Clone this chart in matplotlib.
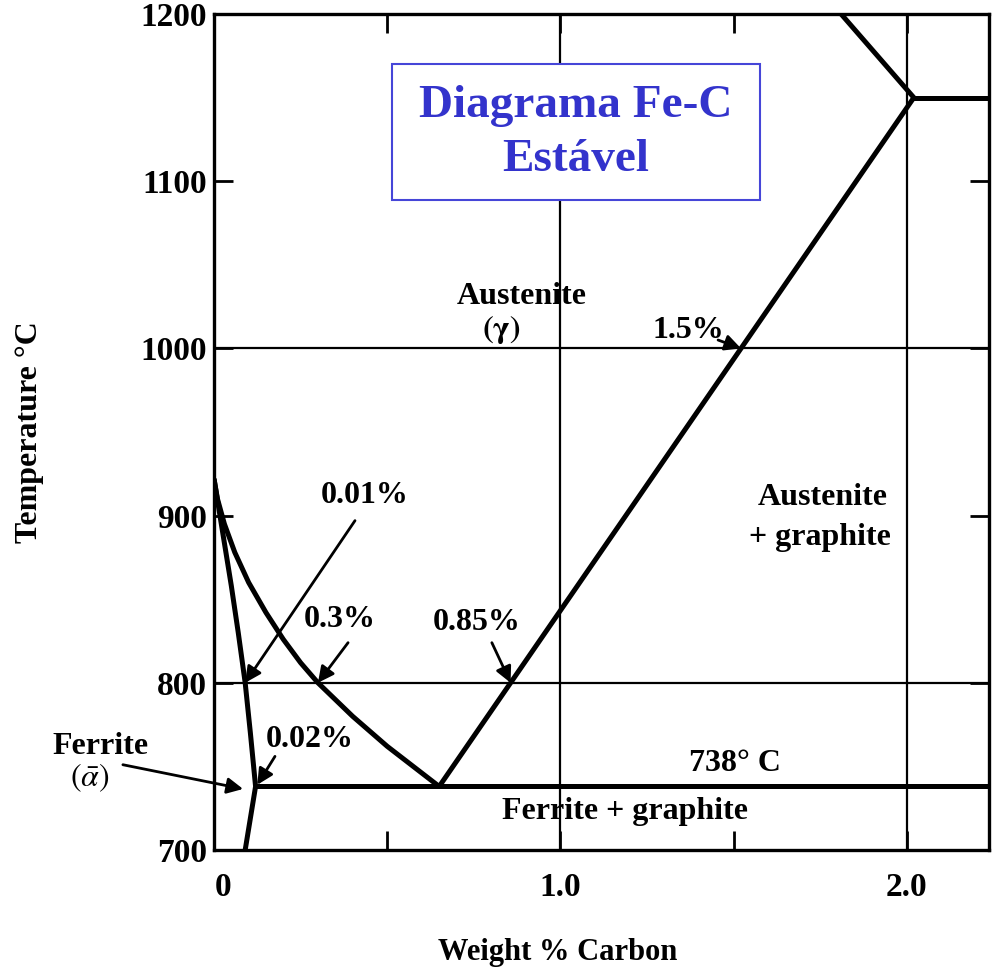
import matplotlib
matplotlib.use('Agg')
import matplotlib.pyplot as plt
import numpy as np
from matplotlib.patches import Rectangle
from matplotlib.transforms import ScaledTranslation

plt.rcParams['font.family'] = ['Liberation Serif', 'DejaVu Serif']
plt.rcParams['mathtext.fontset'] = 'stix'

# eixos
x_ticks = [0, 0.5, 1.0, 1.5, 2.0]
x_tick_labels = ['0', '', '1.0', '', '2.0']
y_ticks = [700, 800, 900, 1000, 1100, 1200]
grade_t = [800, 1000]
grade_c = [1.0, 2.0]

# linha A3 (austenita / ferrita + austenita)
a3_c = [0.0, 0.01, 0.03, 0.06, 0.10, 0.15, 0.20, 0.25, 0.30, 0.35, 0.40,
        0.45, 0.50, 0.55, 0.60, 0.65]
a3_t = [922, 910, 895, 878, 860, 842, 826, 812, 800, 790, 780,
        771, 762, 754, 746, 738]
# limite da ferrita
ferr_c = [0.0, 0.025, 0.05, 0.07, 0.09, 0.105, 0.12, 0.09]
ferr_t = [922, 890, 858, 830, 800, 770, 738, 700]
# linha Acm
acm_c = [0.65, 2.02]
acm_t = [738, 1150]
# acima do eutetico
liq_c = [1.81, 2.02]
liq_t = [1200, 1150]
eutetico_c = [2.02, 2.24]
eutetico_t = [1150, 1150]
eutetoide_c = [0.12, 2.24]
eutetoide_t = [738, 738]

fig = plt.figure(figsize=(9.92, 9.72), dpi=100)
ax = fig.add_axes([214 / 992, 122 / 972, 775 / 992, 836 / 972])
ax.set_xlim(0, 2.237)
ax.set_ylim(700, 1200)

for s in ax.spines.values():
    s.set_linewidth(2.4)

# linhas finas de grade
for t in grade_t:
    ax.axhline(t, color='black', lw=1.6, zorder=1)
for c in grade_c:
    ax.axvline(c, color='black', lw=1.6, zorder=1)

lw = 3.6
ax.plot(a3_c, a3_t, color='black', lw=lw, solid_capstyle='butt', zorder=3)
ax.plot(ferr_c, ferr_t, color='black', lw=lw, solid_capstyle='butt', zorder=3)
ax.plot(acm_c, acm_t, color='black', lw=lw, solid_capstyle='butt', zorder=3)
ax.plot(liq_c, liq_t, color='black', lw=lw, solid_capstyle='butt', zorder=3)
ax.plot(eutetico_c, eutetico_t, color='black', lw=lw, zorder=3)
ax.plot(eutetoide_c, eutetoide_t, color='black', lw=lw, zorder=3)

# ticks
ax.set_xticks(x_ticks)
ax.set_xticklabels(x_tick_labels)
ax.set_yticks(y_ticks)
ax.tick_params(direction='in', top=True, right=True, length=14, width=2,
               labelsize=24)
ax.tick_params(axis='x', pad=16)
ax.tick_params(axis='y', pad=5)
for lb in ax.get_xticklabels() + ax.get_yticklabels():
    lb.set_fontweight('bold')
# o "0" fica um pouco a direita no original
lb0 = ax.get_xticklabels()[0]
lb0.set_transform(lb0.get_transform() + ScaledTranslation(0.09, 0, fig.dpi_scale_trans))

ax.set_xlabel('Weight % Carbon', fontsize=22, fontweight='bold')
ax.xaxis.set_label_coords((558 - 214) / 775, -(938 - 850) / 836)
ax.set_ylabel('Temperature °C', fontsize=23, fontweight='bold')
ax.yaxis.set_label_coords(-(214 - 44) / 775, 0.5)

# textos das fases
fs = 23
kw = dict(ha='center', va='center', fontsize=fs, fontweight='bold')
ax.text(0.889, 1031, 'Austenite', **kw)
ax.text(0.83, 1011, r'$\mathbf{(\gamma)}$', **kw)
ax.text(1.758, 911, 'Austenite', **kw)
ax.text(1.749, 887, '+ graphite', **kw)
ax.text(1.504, 752, '738° C', **kw)
ax.text(1.186, 723, 'Ferrite + graphite', **kw)
ax.text(-0.329, 762, 'Ferrite', clip_on=False, **kw)
ax.text(-0.36, 743.5, r'$(\bar{\alpha})$', clip_on=False, **kw)

# setas
seta = dict(arrowstyle='-|>', lw=2, color='black', mutation_scale=24,
            shrinkA=0, shrinkB=0)
c_ferr_800 = np.interp(800, ferr_t[6::-1], ferr_c[6::-1])
c_a3_800 = np.interp(800, a3_t[::-1], a3_c[::-1])
c_acm_800 = np.interp(800, acm_t, acm_c)
c_acm_1000 = np.interp(1000, acm_t, acm_c)

ax.text(0.436, 912, '0.01%', **kw)
ax.annotate('', xy=(c_ferr_800, 800), xytext=(0.407, 897), arrowprops=seta)
ax.text(0.364, 838, '0.3%', **kw)
ax.annotate('', xy=(c_a3_800, 800), xytext=(0.387, 824), arrowprops=seta)
ax.text(0.277, 766, '0.02%', **kw)
ax.annotate('', xy=(ferr_c[6] + 0.005, 739), xytext=(0.176, 756), arrowprops=seta)
ax.text(0.759, 836, '0.85%', **kw)
ax.annotate('', xy=(c_acm_800, 800), xytext=(0.802, 824), arrowprops=seta)
ax.text(1.368, 1011, '1.5%', **kw)
ax.annotate('', xy=(c_acm_1000, 1000), xytext=(1.455, 1005), arrowprops=seta)
ax.annotate('', xy=(0.084, 736.5), xytext=(-0.263, 751), arrowprops=seta,
            annotation_clip=False)

# caixa do titulo
fig.add_artist(Rectangle((392 / 992, 1 - 200 / 972), 368 / 992, 136 / 972,
                         transform=fig.transFigure, facecolor='white',
                         edgecolor='#4646d8', lw=1.5, zorder=5))
fig.text(576 / 992, 1 - 133 / 972, 'Diagrama Fe-C\nEstável', ha='center',
         va='center', fontsize=34, fontweight='bold', color='#3333cc',
         linespacing=1.35, zorder=6)

fig.savefig('out.png', dpi=100)
